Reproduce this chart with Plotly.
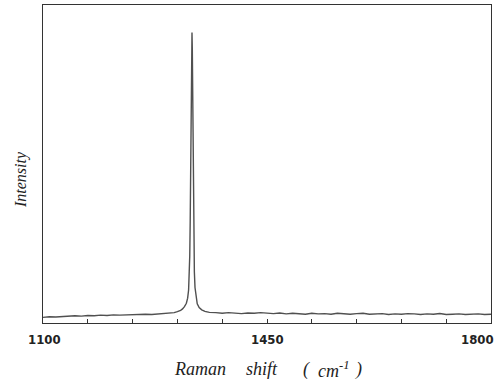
import plotly.graph_objects as go

# Raman shift (cm^-1) and intensity (arbitrary units)
raman_shift = [1100, 1110, 1120, 1130, 1140, 1150, 1160, 1170, 1180, 1190, 1200,
               1210, 1220, 1230, 1240, 1250, 1260, 1270, 1280, 1290, 1300, 1305,
               1310, 1315, 1318, 1321, 1324, 1326, 1327.5, 1328.5, 1329.3, 1330,
               1330.6, 1331.2, 1331.8, 1332.3, 1332.8, 1333.3, 1333.8, 1334.4,
               1335, 1335.7, 1336.5, 1337.5, 1339, 1341, 1344, 1348, 1353, 1360,
               1370, 1380, 1390, 1400, 1410, 1420, 1430, 1440, 1450, 1460, 1470,
               1480, 1490, 1500, 1510, 1520, 1530, 1540, 1550, 1560, 1570, 1580,
               1590, 1600, 1610, 1620, 1630, 1640, 1650, 1660, 1670, 1680, 1690,
               1700, 1710, 1720, 1730, 1740, 1750, 1760, 1770, 1780, 1790, 1800]
intensity = [0.5, 0.7, 0.6, 0.8, 0.8, 1.0, 0.9, 1.1, 1.0, 1.2, 1.1,
             1.3, 1.2, 1.3, 1.4, 1.3, 1.5, 1.4, 1.6, 1.7, 1.8, 2.0,
             2.3, 2.7, 3.2, 3.9, 5.0, 6.6, 9.2, 13.5, 20.0, 31.0,
             47.0, 65.0, 81.0, 90.0, 91.2, 86.0, 73.0, 55.0,
             38.0, 24.0, 15.0, 10.0, 6.8, 4.8, 3.6, 2.9, 2.4, 2.1,
             2.0, 1.8, 2.0, 1.9, 1.7, 1.9, 1.8, 2.0, 1.8, 1.7, 1.9,
             1.6, 1.8, 1.7, 1.5, 1.8, 1.6, 1.7, 1.5, 1.8, 1.6, 1.5,
             1.7, 1.8, 1.5, 1.6, 1.7, 1.4, 1.6, 1.5, 1.7, 1.6, 1.4,
             1.6, 1.5, 1.7, 1.4, 1.5, 1.6, 1.4, 1.5, 1.6, 1.4, 1.5]

tick_positions = [1100, 1170, 1240, 1310, 1380, 1450, 1520, 1590, 1660, 1730, 1800]
tick_labels = ["1100", "1450", "1800"]
x_title_parts = ["Raman", "shift", "(", "cm<sup>-1</sup>", ")"]
y_title = "Intensity"

fig = go.Figure()
fig.add_trace(go.Scatter(x=raman_shift, y=intensity, mode="lines",
                         line=dict(color="#505050", width=1.4),
                         showlegend=False, hoverinfo="skip"))

fig.update_layout(
    width=496, height=383,
    margin=dict(l=43, r=5, t=5, b=60, autoexpand=False),
    paper_bgcolor="white", plot_bgcolor="white",
    xaxis=dict(range=[1100, 1800], tickvals=tick_positions,
               ticktext=[""] * len(tick_positions),
               ticks="inside", ticklen=4, tickcolor="#333", tickwidth=1,
               showline=True, linecolor="#333", linewidth=1.3, mirror=True,
               showgrid=False, zeroline=False),
    yaxis=dict(range=[-1.3, 100], showticklabels=False, ticks="",
               showline=True, linecolor="#333", linewidth=1.3, mirror=True,
               showgrid=False, zeroline=False),
)

label_font = dict(family="Liberation Sans Narrow, Arial Narrow, DejaVu Sans Condensed, sans-serif",
                  size=13, color="#222")
shifts = {"1100": 1, "1450": 0, "1800": -14}
for lab in tick_labels:
    fig.add_annotation(x=float(lab), xref="x", y=0, yref="paper", yshift=-16,
                       text="<b>%s</b>" % lab, showarrow=False, font=label_font,
                       xanchor="center", yanchor="middle", xshift=shifts[lab])

title_font = dict(family="Liberation Serif, DejaVu Serif, serif", size=18, color="#222")
title_centers = [200, 262, 306, 334, 358]  # pixel centres of the title words
for part, cx in zip(x_title_parts, title_centers):
    fig.add_annotation(x=0, xref="paper", xshift=cx - 43, y=0, yref="paper", yshift=-46,
                       text="<i>%s</i>" % part, showarrow=False, font=title_font,
                       xanchor="center", yanchor="middle")
fig.add_annotation(x=0, xref="paper", xshift=-22, y=0, yref="paper", yshift=143,
                   text="<i>%s</i>" % y_title, showarrow=False, textangle=-90,
                   font=dict(family="Liberation Serif, DejaVu Serif, serif", size=16, color="#222"),
                   xanchor="center", yanchor="middle")

fig.write_html("out.html", config={"displayModeBar": False},
               post_script="document.body.style.margin='0';document.body.style.overflow='hidden';")
